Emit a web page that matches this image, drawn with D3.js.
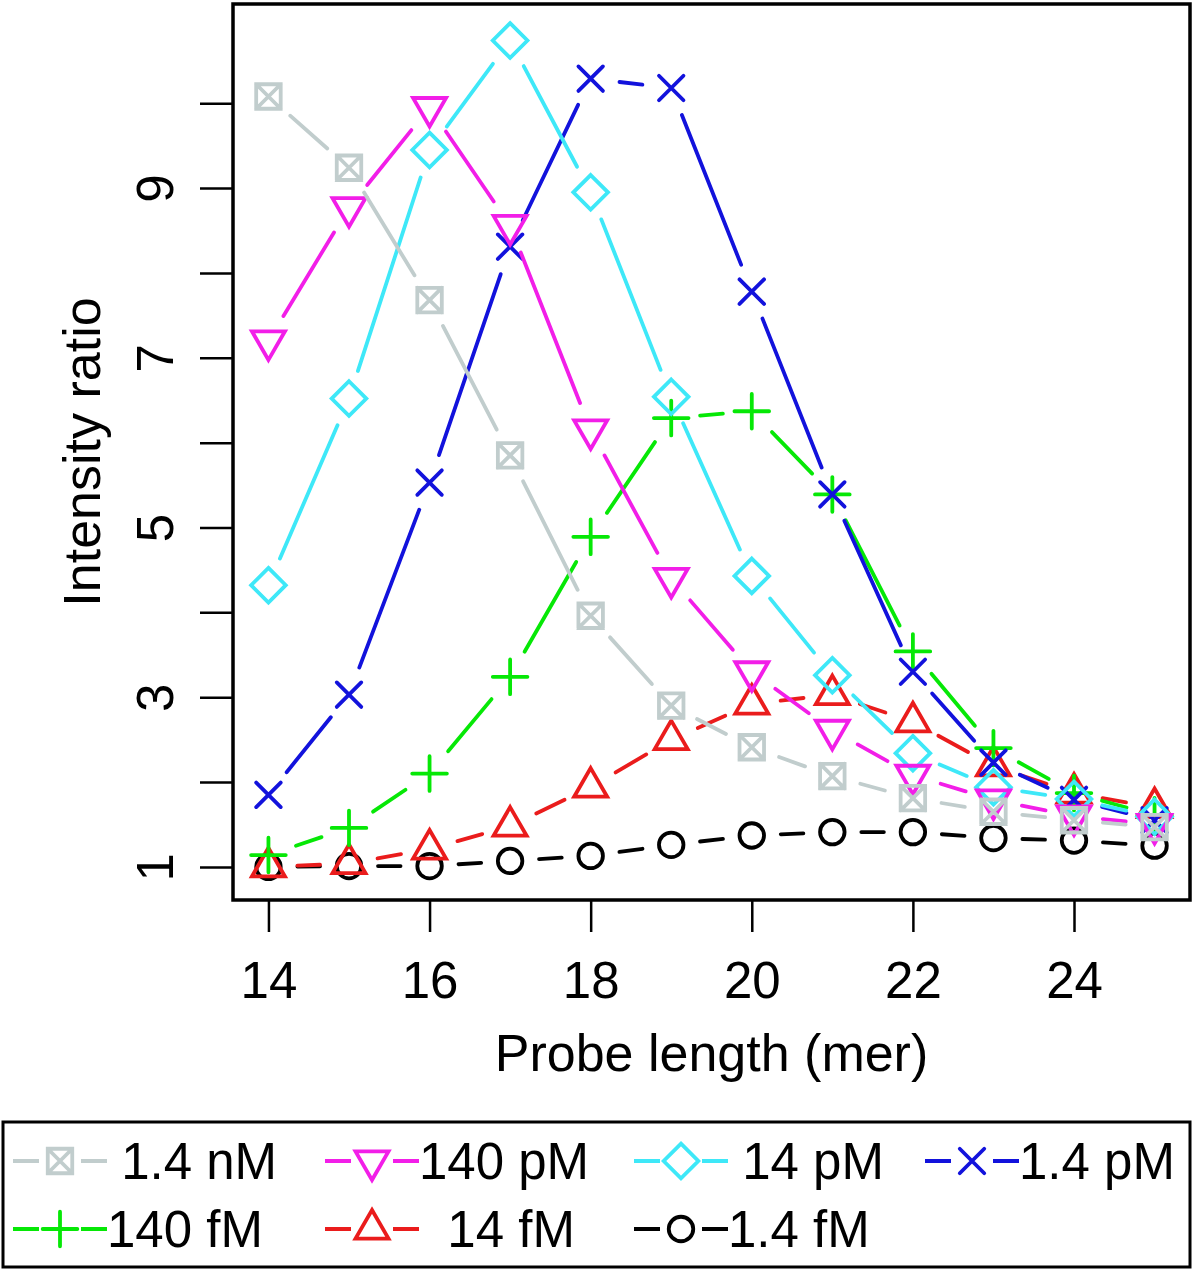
<!DOCTYPE html>
<html>
<head>
<meta charset="utf-8">
<script src="https://cdn.jsdelivr.net/npm/d3@7"></script>
<style>
  body { margin: 0; background: #fff; }
  svg { display: block; }
  text { font-family: "Liberation Sans", Arial, Helvetica, sans-serif; white-space: pre; }
</style>
</head>
<body>
<svg id="chart" width="1200" height="1274"></svg>
<script>
// probe lengths (x) and intensity ratios per target concentration
const lengths = [14, 15, 16, 17, 18, 19, 20, 21, 22, 23, 24, 25];
const nM1_4 = [10.08, 9.24, 7.68, 5.85, 3.96, 2.90, 2.41, 2.07, 1.81, 1.65, 1.55, 1.47];
const pM140 = [7.20, 8.77, 9.95, 8.56, 6.15, 4.40, 3.30, 2.61, 2.08, 1.79, 1.60, 1.50];
const pM14 = [4.32, 6.52, 9.45, 10.74, 8.95, 6.54, 4.43, 3.26, 2.34, 1.94, 1.80, 1.59];
const pM1_4 = [1.85, 3.03, 5.53, 8.31, 10.29, 10.18, 7.78, 5.39, 3.30, 2.23, 1.79, 1.55];
const fM140 = [1.14, 1.46, 2.10, 3.24, 4.89, 6.29, 6.37, 5.39, 3.54, 2.40, 1.87, 1.61];
const fM14 = [1.00, 1.04, 1.21, 1.48, 1.94, 2.50, 2.92, 3.03, 2.71, 2.19, 1.87, 1.70];
const fM1_4 = [1.00, 1.01, 1.01, 1.07, 1.13, 1.26, 1.37, 1.41, 1.41, 1.34, 1.31, 1.25];

const seriesLabels = [" 1.4 nM", "140 pM", " 14 pM", "1.4 pM", "140 fM", "  14 fM", "1.4 fM"];
const seriesColors = ["#c1cdcd", "#f21ee8", "#3ee8f8", "#1212dc", "#06e806", "#ea1c1c", "#000000"];
const seriesSymbols = ["boxX", "triDown", "diamond", "cross", "plus", "triUp", "circle"];
const seriesValues = [nM1_4, pM140, pM14, pM1_4, fM140, fM14, fM1_4];

const xTicks = [14, 16, 18, 20, 22, 24];
const yTicks = [1, 2, 3, 4, 5, 6, 7, 8, 9, 10];
const yTickLabels = ["1", "", "3", "", "5", "", "7", "", "9", ""];

const svg = d3.select("#chart");
const boxL = 233, boxR = 1190, boxT = 4, boxB = 900;
const R = 12.25;     // symbol radius
const gap = 29;      // gap around points (type "b")
const lw = 3.8;
const fontSize = 51;

const x = d3.scaleLinear().domain([13.56, 25.44]).range([boxL, boxR]);
const y = d3.scaleLinear().domain([0.61, 11.17]).range([boxB, boxT]);

function symbolPath(type, r) {
  const s2 = Math.SQRT2 * r;
  switch (type) {
    case "circle":
      return `M${r},0A${r},${r} 0 1,1 ${-r},0A${r},${r} 0 1,1 ${r},0Z`;
    case "boxX":
      return `M${-r},${-r}H${r}V${r}H${-r}Z M${-r},${-r}L${r},${r} M${r},${-r}L${-r},${r}`;
    case "cross":
      return `M${-r},${-r}L${r},${r} M${r},${-r}L${-r},${r}`;
    case "plus":
      return `M${-s2},0H${s2} M0,${-s2}V${s2}`;
    case "diamond":
      return `M0,${-s2}L${s2},0L0,${s2}L${-s2},0Z`;
    case "triUp": {
      const a = 1.555 * r, w = 1.347 * r, b = 0.778 * r;
      return `M0,${-a}L${w},${b}L${-w},${b}Z`;
    }
    case "triDown": {
      const a = 1.555 * r, w = 1.347 * r, b = 0.778 * r;
      return `M0,${a}L${w},${-b}L${-w},${-b}Z`;
    }
  }
}

// series drawn last-to-first so the first legend entry sits on top
const order = d3.range(seriesValues.length).reverse();
const plot = svg.append("g");

order.forEach(function (k) {
  const pts = lengths.map((L, i) => [x(L), y(seriesValues[k][i])]);
  const g = plot.append("g")
    .attr("stroke", seriesColors[k])
    .attr("fill", "none")
    .attr("stroke-width", lw)
    .attr("stroke-linecap", "round");

  const segs = [];
  for (let i = 0; i < pts.length - 1; i++) {
    const [x0, y0] = pts[i], [x1, y1] = pts[i + 1];
    const d = Math.hypot(x1 - x0, y1 - y0);
    if (d > 2 * gap) {
      const ux = (x1 - x0) / d, uy = (y1 - y0) / d;
      segs.push([x0 + ux * gap, y0 + uy * gap, x1 - ux * gap, y1 - uy * gap]);
    }
  }
  g.selectAll("line")
    .data(segs)
    .enter()
    .append("line")
    .attr("x1", (d) => d[0])
    .attr("y1", (d) => d[1])
    .attr("x2", (d) => d[2])
    .attr("y2", (d) => d[3]);

  g.selectAll("path")
    .data(pts)
    .enter()
    .append("path")
    .attr("transform", (d) => `translate(${d[0]},${d[1]})`)
    .attr("d", symbolPath(seriesSymbols[k], R));
});

// plot box
svg.append("rect")
  .attr("x", boxL).attr("y", boxT)
  .attr("width", boxR - boxL).attr("height", boxB - boxT)
  .attr("fill", "none").attr("stroke", "#000").attr("stroke-width", 3.5);

// x axis
const xAxis = svg.append("g").attr("transform", `translate(0,${boxB})`)
  .call(d3.axisBottom(x).tickValues(xTicks).tickSize(32).tickPadding(0).tickFormat(d3.format("d")));
xAxis.select(".domain").remove();
xAxis.selectAll(".tick line").attr("stroke-width", 2.5);
xAxis.selectAll(".tick text")
  .attr("y", 98).attr("dy", null)
  .attr("font-size", fontSize).attr("fill", "#000")
  .attr("font-family", '"Liberation Sans", Arial, sans-serif');

// y axis
const yAxis = svg.append("g").attr("transform", `translate(${boxL},0)`)
  .call(d3.axisLeft(y).tickValues(yTicks).tickSize(33).tickFormat((d, i) => yTickLabels[i]));
yAxis.select(".domain").remove();
yAxis.selectAll(".tick line").attr("stroke-width", 2.5);
yAxis.selectAll(".tick text")
  .attr("x", null).attr("dy", null)
  .attr("transform", "translate(-60,0) rotate(-90)")
  .attr("text-anchor", "middle")
  .attr("font-size", fontSize).attr("fill", "#000")
  .attr("font-family", '"Liberation Sans", Arial, sans-serif');

// axis titles
svg.append("text")
  .attr("x", (boxL + boxR) / 2).attr("y", 1071)
  .attr("text-anchor", "middle").attr("font-size", 52)
  .text("Probe length (mer)");

svg.append("text")
  .attr("transform", `translate(100,${(boxT + boxB) / 2}) rotate(-90)`)
  .attr("text-anchor", "middle").attr("font-size", 52)
  .text("Intensity ratio");

// legend
svg.append("rect")
  .attr("x", 3).attr("y", 1122).attr("width", 1187).attr("height", 145)
  .attr("fill", "none").attr("stroke", "#000").attr("stroke-width", 3);

const legColX = [60, 372, 681, 972];
const legRowY = [1161, 1229];

const leg = svg.append("g").selectAll("g")
  .data(seriesLabels)
  .enter()
  .append("g")
  .attr("transform", (d, i) => `translate(${legColX[i % 4]},${legRowY[Math.floor(i / 4)]})`);

leg.each(function (d, i) {
  const g = d3.select(this);
  const c = seriesColors[i];
  g.append("path")
    .attr("d", "M-47,0H-21 M21,0H47")
    .attr("stroke", c).attr("stroke-width", lw).attr("fill", "none");
  g.append("path")
    .attr("d", symbolPath(seriesSymbols[i], R))
    .attr("stroke", c).attr("stroke-width", lw).attr("fill", "none")
    .attr("stroke-linecap", "round");
  g.append("text")
    .attr("x", 47).attr("y", 18)
    .attr("font-size", fontSize)
    .text(d);
});
</script>
</body>
</html>
